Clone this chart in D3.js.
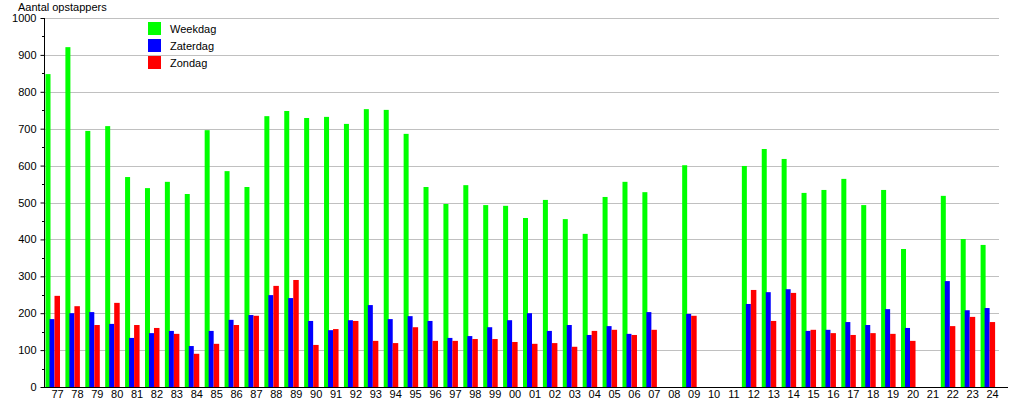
<!DOCTYPE html>
<html>
<head>
<meta charset="utf-8">
<script src="https://cdn.jsdelivr.net/npm/d3@7"></script>
<style>
  html, body { margin: 0; padding: 0; background: #fff; }
  svg { display: block; font-family: "Liberation Sans", Arial, sans-serif; }
</style>
</head>
<body>
<svg id="chart" width="1015" height="400"></svg>
<script>
const years = ["77","78","79","80","81","82","83","84","85","86","87","88","89","90","91","92","93","94","95","96","97","98","99",
               "00","01","02","03","04","05","06","07","08","09","10","11","12","13","14","15","16","17","18","19","20","21","22","23","24"];
const weekdag = [848,921,694,707,569,539,556,523,696,585,542,734,748,729,732,713,753,751,686,542,496,547,493,
                 491,458,507,455,415,515,556,528,null,601,null,null,599,645,618,526,534,564,493,534,374,null,518,401,385];
const zaterdag = [184,200,203,171,133,146,152,111,152,182,195,249,241,179,154,181,222,184,192,179,133,138,162,
                  181,200,152,168,141,165,144,203,null,198,null,null,225,257,265,152,155,176,168,211,160,null,287,208,214];
const zondag = [247,219,168,228,168,160,144,90,117,168,193,274,290,114,157,179,125,119,162,125,125,130,130,
                122,117,119,109,152,155,141,155,null,193,null,null,263,179,255,155,146,141,146,144,125,null,165,190,176];
const yTicks = [0,100,200,300,400,500,600,700,800,900,1000];
const seriesNames = ["Weekdag","Zaterdag","Zondag"];
const seriesColors = ["#00ff00","#0000ff","#ff0000"];

(function() {
const svg = d3.select("#chart");
const mLeft = 44, mRight = 999, mTop = 18, mBottom = 387;

const x = d3.scaleBand().domain(years).range([mLeft, mRight]).paddingInner(0).paddingOuter(0);
const y = d3.scaleLinear().domain([0, 1000]).range([mBottom, mTop]);

// gridlines
svg.append("g").selectAll("line").data(yTicks.filter(d => d > 0)).join("line")
  .attr("x1", mLeft).attr("x2", mRight)
  .attr("y1", d => Math.round(y(d)) + 0.5).attr("y2", d => Math.round(y(d)) + 0.5)
  .attr("stroke", "#c0c0c0").attr("stroke-width", 1);

// bars
const series = [weekdag, zaterdag, zondag];
const offsets = [1.5, 5.5, 10.5];
const widths = [5, 5, 5.5];
series.forEach((vals, si) => {
  svg.append("g").selectAll("rect")
    .data(years.map((yr, i) => ({yr, v: vals[i]})).filter(d => d.v != null))
    .join("rect")
    .attr("x", d => x(d.yr) + offsets[si])
    .attr("width", widths[si])
    .attr("y", d => y(d.v))
    .attr("height", d => y(0) - y(d.v))
    .attr("fill", seriesColors[si]);
});

// y axis
const yAxis = d3.axisLeft(y).tickValues(yTicks).tickSize(4).tickPadding(4).tickFormat(d3.format("d"));
const gy = svg.append("g").attr("transform", `translate(${mLeft + 0.5},0)`).call(yAxis);
gy.select(".domain").remove();
gy.selectAll("text").attr("font-size", 11).attr("fill", "#000").attr("font-family", "Liberation Sans, Arial, sans-serif");
gy.selectAll("line").attr("stroke", "#000");
// minor ticks
svg.append("g").selectAll("line").data(d3.range(50, 1000, 100)).join("line")
  .attr("x1", mLeft - 2).attr("x2", mLeft)
  .attr("y1", d => Math.round(y(d)) + 0.5).attr("y2", d => Math.round(y(d)) + 0.5)
  .attr("stroke", "#000");
svg.append("line").attr("x1", mLeft + 0.5).attr("x2", mLeft + 0.5).attr("y1", mTop).attr("y2", mBottom + 0.5)
  .attr("stroke", "#000");

// x axis
svg.append("line").attr("x1", mLeft).attr("x2", 1008).attr("y1", mBottom + 0.5).attr("y2", mBottom + 0.5)
  .attr("stroke", "#000");
const xAxis = d3.axisBottom(x).tickSize(0).tickPadding(0);
const gx = svg.append("g").attr("transform", `translate(${-x.bandwidth()/2 + 13.5},${mBottom})`).call(xAxis);
gx.select(".domain").remove();
gx.selectAll("text").attr("font-size", 11).attr("fill", "#000").attr("dy", null).attr("y", 11)
  .attr("font-family", "Liberation Sans, Arial, sans-serif");

// y title
svg.append("text").attr("x", 18).attr("y", 11).attr("font-size", 11).attr("fill", "#000").text("Aantal opstappers");

// legend
const lg = svg.append("g");
seriesNames.forEach((n, i) => {
  lg.append("rect").attr("x", 148).attr("y", 22 + i * 17).attr("width", 13).attr("height", 13).attr("fill", seriesColors[i]);
  lg.append("text").attr("x", 170).attr("y", 33 + i * 17).attr("font-size", 11).attr("fill", "#000").text(n);
});
})();
</script>
</body>
</html>
